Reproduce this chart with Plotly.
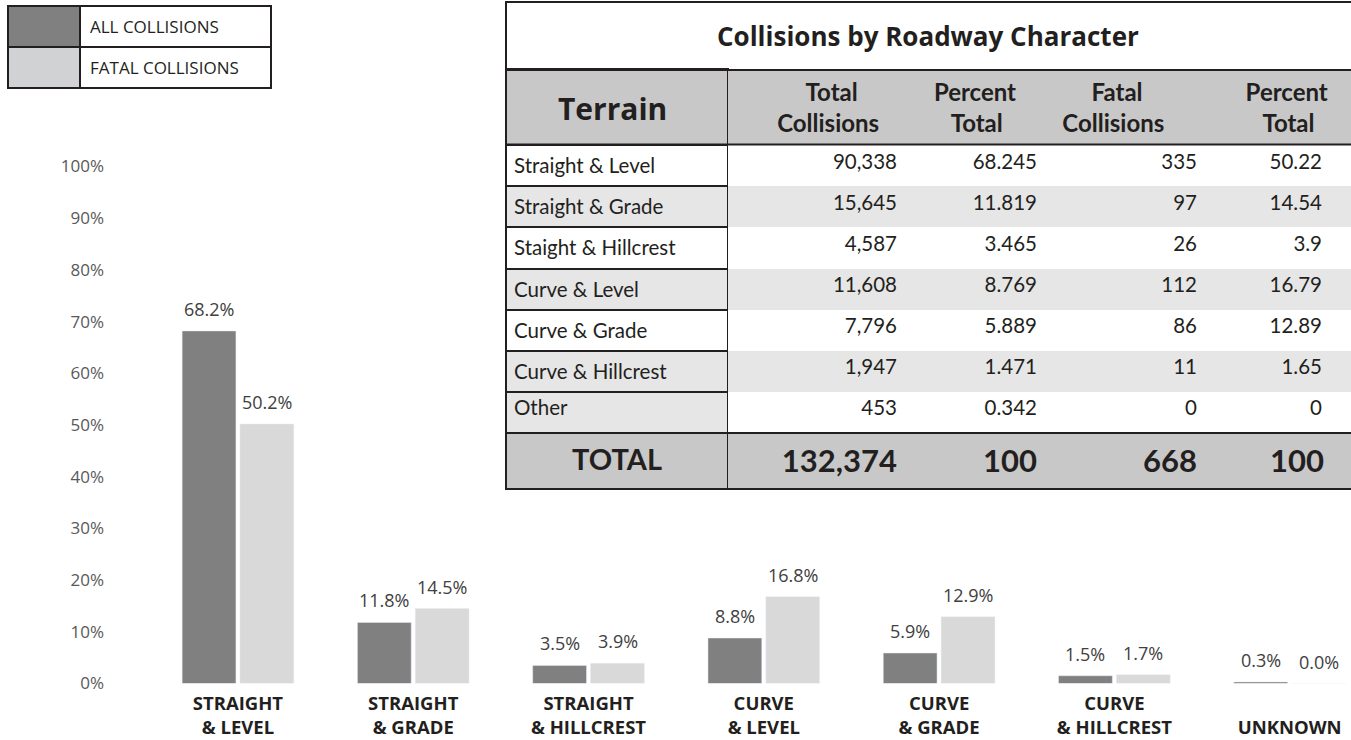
import plotly.graph_objects as go

W, H = 1351, 740

# bar chart values (percent of collisions)
categories = ["STRAIGHT<br>& LEVEL", "STRAIGHT<br>& GRADE", "STRAIGHT<br>& HILLCREST",
              "CURVE<br>& LEVEL", "CURVE<br>& GRADE", "CURVE<br>& HILLCREST", " <br>UNKNOWN"]
all_collisions = [68.2, 11.8, 3.5, 8.8, 5.9, 1.5, 0.3]
fatal_collisions = [50.2, 14.5, 3.9, 16.8, 12.9, 1.7, 0.0]
y_ticks = [0, 10, 20, 30, 40, 50, 60, 70, 80, 90, 100]

# table values
terrain = ["Straight & Level", "Straight & Grade", "Staight & Hillcrest", "Curve & Level",
           "Curve & Grade", "Curve & Hillcrest", "Other"]
tbl_total = ["90,338", "15,645", "4,587", "11,608", "7,796", "1,947", "453"]
tbl_total_pct = ["68.245", "11.819", "3.465", "8.769", "5.889", "1.471", "0.342"]
tbl_fatal = ["335", "97", "26", "112", "86", "11", "0"]
tbl_fatal_pct = ["50.22", "14.54", "3.9", "16.79", "12.89", "1.65", "0"]
tbl_sum = ["TOTAL", "132,374", "100", "668", "100"]
tbl_headers = ["Terrain", ["Total", "Collisions"], ["Percent", "Total"],
               ["Fatal", "Collisions"], ["Percent", "Total"]]
tbl_title = "Collisions by Roadway Character"

DARK = "#808080"
LIGHT = "#d9d9d9"
INK = "#231f20"
GRAY_HDR = "#c8c8c8"
GRAY_ROW = "#e6e6e6"
NONE = "rgba(0,0,0,0)"
FONT = "Open Sans"
TFONT = "Lato"
NB = "\u00a0"
COLW = [222, 177, 140, 160, 146]
LINES = [INK, NONE, NONE, NONE, NONE]


def px_x(x):
    return x / W


def px_y(y):
    return 1 - y / H


def stack(lines, lead, trail):
    # table header lines are left-aligned with each other, so pad them by hand
    return "<br>".join(NB * a + s + NB * b for s, a, b in zip(lines, lead, trail))


fig = go.Figure()

fig.add_trace(go.Bar(x=categories, y=all_collisions, name="ALL COLLISIONS",
                     marker_color=DARK, showlegend=False, hoverinfo="skip"))
fig.add_trace(go.Bar(x=categories, y=fatal_collisions, name="FATAL COLLISIONS",
                     marker_color=LIGHT, showlegend=False, hoverinfo="skip"))

# value labels above the bars
annotations = []
for cat, a, f in zip(categories, all_collisions, fatal_collisions):
    for v, dx in ((a, -29), (f, 29)):
        annotations.append(dict(x=cat, y=v, xref="x", yref="y", text=f"{v:.1f}%",
                                showarrow=False, yanchor="bottom", xanchor="center",
                                xshift=dx, yshift=8,
                                font=dict(family=FONT, size=18, color="#404040")))

# table: header + rows
n = len(terrain)
data_fill = [("white" if i % 2 == 0 else GRAY_ROW) for i in range(n)]
first_fill = data_fill[:n - 1] + [GRAY_ROW]
header_vals = ["",
               "<b>" + stack(tbl_headers[1], [9, 4], [0, 0]) + "</b>",
               "<b>" + stack(tbl_headers[2], [0, 3], [0, 0]) + "</b>",
               "<b>" + stack(tbl_headers[3], [5, 0], [0, 4]) + "</b>",
               "<b>" + stack(tbl_headers[4], [3, 6], [0, 0]) + "</b>"]

fig.add_trace(go.Table(
    domain=dict(x=[px_x(506), px_x(1351)], y=[px_y(450), px_y(69)]),
    columnwidth=COLW,
    header=dict(values=header_vals,
                fill_color=GRAY_HDR, align="center", height=76,
                line=dict(color=LINES, width=2),
                font=dict(family=TFONT, size=24, color=INK)),
    cells=dict(values=[terrain, tbl_total, tbl_total_pct, tbl_fatal,
                       [v + NB * 4 for v in tbl_fatal_pct]],
               fill_color=[first_fill, data_fill, data_fill, data_fill, data_fill],
               align=["left", "right", "right", "right", "right"], height=41.14,
               line=dict(color=LINES, width=2),
               font=dict(family=TFONT, size=20.5, color=INK)),
))

# total row
sum_vals = ["<b>" + s + "</b>" for s in tbl_sum]
sum_vals[-1] = "<b>" + tbl_sum[-1] + NB * 2 + "\u2009</b>"
fig.add_trace(go.Table(
    domain=dict(x=[px_x(506), px_x(1351)], y=[px_y(505), px_y(433)]),
    columnwidth=COLW,
    header=dict(values=sum_vals,
                fill_color=GRAY_HDR, align=["center", "right", "right", "right", "right"], height=56,
                line=dict(color=LINES, width=2),
                font=dict(family=TFONT, size=[29, 31, 31, 31, 31], color=INK)),
    cells=dict(values=[[], [], [], [], []]),
))

shapes = [
    # title box
    dict(type="rect", xref="paper", yref="paper", x0=px_x(506), x1=px_x(1353), y0=px_y(70), y1=px_y(2),
         line=dict(color=INK, width=2), fillcolor=NONE, layer="above"),
    dict(type="line", xref="paper", yref="paper", x0=px_x(506), x1=px_x(1351), y0=px_y(144.5), y1=px_y(144.5),
         line=dict(color=INK, width=2)),
    dict(type="line", xref="paper", yref="paper", x0=px_x(506), x1=px_x(1351), y0=px_y(433), y1=px_y(433),
         line=dict(color=INK, width=2)),
    dict(type="line", xref="paper", yref="paper", x0=px_x(506), x1=px_x(1351), y0=px_y(489), y1=px_y(489),
         line=dict(color=INK, width=2)),
    # legend
    dict(type="rect", xref="paper", yref="paper", x0=px_x(8), x1=px_x(80), y0=px_y(47), y1=px_y(6),
         line=dict(color=INK, width=2), fillcolor=DARK),
    dict(type="rect", xref="paper", yref="paper", x0=px_x(8), x1=px_x(80), y0=px_y(88), y1=px_y(47),
         line=dict(color=INK, width=2), fillcolor="#d1d2d4"),
    dict(type="rect", xref="paper", yref="paper", x0=px_x(80), x1=px_x(271), y0=px_y(47), y1=px_y(6),
         line=dict(color=INK, width=2), fillcolor="white"),
    dict(type="rect", xref="paper", yref="paper", x0=px_x(80), x1=px_x(271), y0=px_y(88), y1=px_y(47),
         line=dict(color=INK, width=2), fillcolor="white"),
]

annotations += [
    dict(xref="paper", yref="paper", x=px_x(928), y=px_y(36), text="<b>" + tbl_title + "</b>",
         xanchor="center", yanchor="middle",
         showarrow=False, font=dict(family=FONT, size=26, color=INK)),
    dict(xref="paper", yref="paper", x=px_x(612), y=px_y(108), text="<b>" + tbl_headers[0] + "</b>",
         xanchor="center", yanchor="middle",
         showarrow=False, font=dict(family=FONT, size=30, color=INK)),
    dict(xref="paper", yref="paper", x=px_x(88), y=px_y(27), text="ALL COLLISIONS",
         xanchor="left", yanchor="middle",
         showarrow=False, font=dict(family=FONT, size=17, color=INK)),
    dict(xref="paper", yref="paper", x=px_x(88), y=px_y(68), text="FATAL COLLISIONS",
         xanchor="left", yanchor="middle",
         showarrow=False, font=dict(family=FONT, size=17, color=INK)),
]

fig.update_layout(
    width=W, height=H,
    margin=dict(l=0, r=0, t=0, b=0, autoexpand=False),
    paper_bgcolor="white", plot_bgcolor="white",
    barmode="group", bargap=0.34, bargroupgap=0.07,
    xaxis=dict(domain=[px_x(110), px_x(1351)], range=[-0.73, 6.35], showgrid=False, showline=False,
               zeroline=False, ticks="", automargin=False, ticklabelstandoff=7,
               tickfont=dict(family=FONT, size=18.5, color=INK),
               tickprefix="<b>", ticksuffix="</b>"),
    yaxis=dict(domain=[px_y(683.5), px_y(166.5)], range=[0, 100], tickvals=y_ticks,
               ticktext=[f"{v}%" for v in y_ticks], automargin=False,
               showgrid=False, zeroline=False, showline=False, ticks="",
               ticklabelstandoff=5, tickfont=dict(family=FONT, size=17, color="#595959")),
    shapes=shapes,
    annotations=annotations,
)

# drop the browser's default 8px body margin so the figure sits in the corner
fig.write_html("out.html", config={"displayModeBar": False},
               post_script="document.body.style.margin = '0';")
